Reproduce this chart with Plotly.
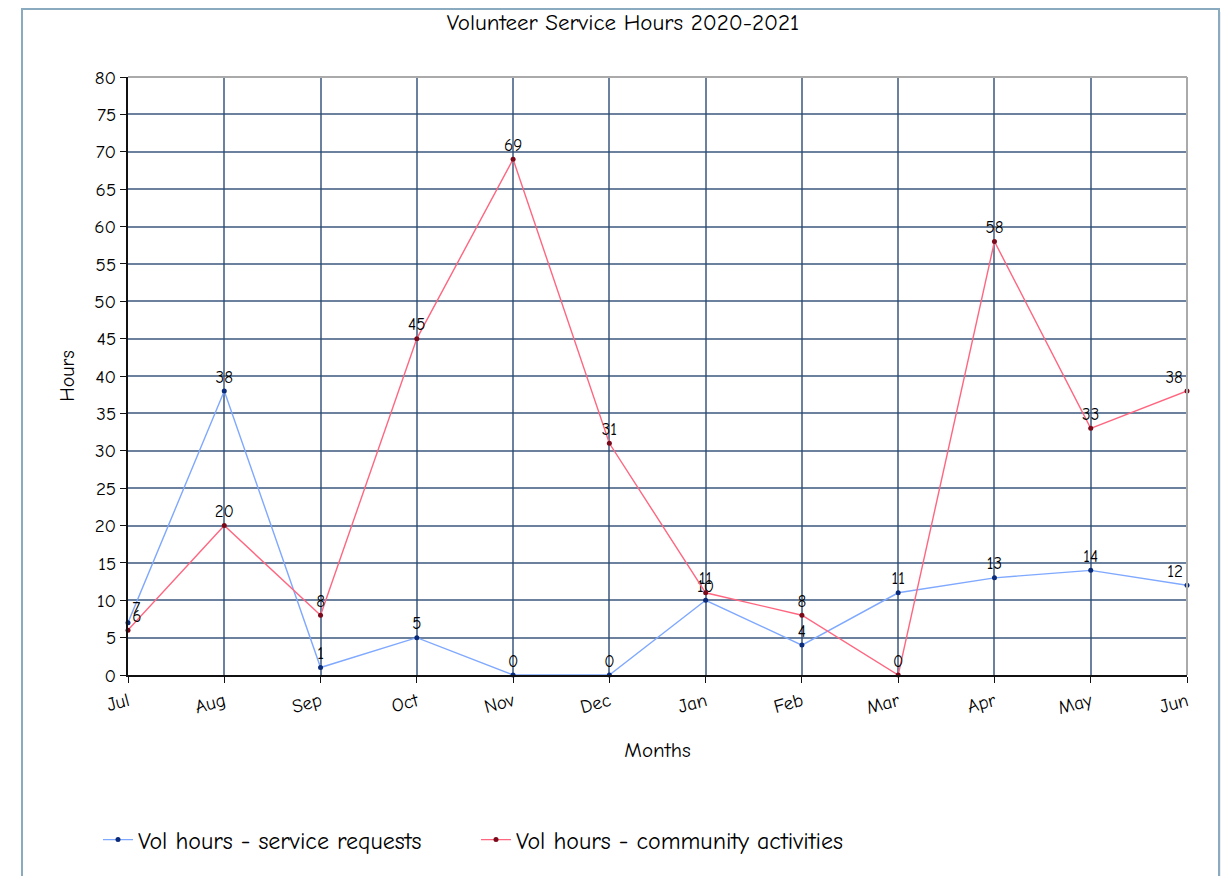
import plotly.graph_objects as go

months = ["Jul", "Aug", "Sep", "Oct", "Nov", "Dec", "Jan", "Feb", "Mar", "Apr", "May", "Jun"]
service_requests = [7, 38, 1, 5, 0, 0, 10, 4, 11, 13, 14, 12]
community_activities = [6, 20, 8, 45, 69, 31, 11, 8, 0, 58, 33, 38]

FONT = "Comic Sans MS, Comic Neue, DejaVu Sans, sans-serif"

def positions(n):
    p = ["top center"] * n
    p[0] = "top right"
    p[-1] = "top left"
    return p

fig = go.Figure()
fig.add_trace(go.Scatter(
    x=months, y=service_requests, mode="lines+markers+text",
    name="Vol hours - service requests",
    line=dict(color="#7fa8ff", width=1.4),
    marker=dict(color="#0a2a7a", size=5),
    text=[str(v) for v in service_requests],
    textposition=positions(len(months)),
    textfont=dict(family=FONT, size=17, color="#000"),
    cliponaxis=False,
))
fig.add_trace(go.Scatter(
    x=months, y=community_activities, mode="lines+markers+text",
    name="Vol hours - community activities",
    line=dict(color="#ff6680", width=1.4),
    marker=dict(color="#7a0a1a", size=5),
    text=[str(v) for v in community_activities],
    textposition=positions(len(months)),
    textfont=dict(family=FONT, size=17, color="#000"),
    cliponaxis=False,
))

W, H = 1213, 868
L, T = 120, 69
PW, PH = 1059, 598

fig.update_layout(
    width=W, height=H,
    margin=dict(l=L, r=W - L - PW, t=T, b=H - T - PH),
    paper_bgcolor="white", plot_bgcolor="white",
    font=dict(family=FONT, color="#000"),
    title=dict(text="Volunteer Service Hours 2020-2021", x=615 / W, xanchor="center",
               y=1 - 14 / H, yanchor="middle", font=dict(size=23, family=FONT)),
    xaxis=dict(
        type="category", range=[0, 11],
        title=dict(text="Months", font=dict(size=21), standoff=24),
        tickangle=-15, tickfont=dict(size=19),
        showgrid=True, gridcolor="rgba(45,75,115,0.7)", gridwidth=1.5,
        showline=True, linecolor="#111", linewidth=2,
        ticks="outside", ticklen=6, tickcolor="#111",
        zeroline=False,
    ),
    yaxis=dict(
        range=[0, 80], dtick=5,
        title=dict(text="Hours", font=dict(size=20), standoff=14),
        tickfont=dict(size=19),
        showgrid=True, gridcolor="rgba(45,75,115,0.7)", gridwidth=1.5,
        showline=True, linecolor="#111", linewidth=2,
        ticks="outside", ticklen=6, tickcolor="#111",
        zeroline=False,
    ),
    legend=dict(orientation="h", x=-30 / PW, y=-165 / PH, xanchor="left", yanchor="middle",
                font=dict(size=24), itemwidth=30, entrywidth=333, entrywidthmode="pixels"),
    showlegend=True,
)

# plot-area top/right gray border
fig.add_shape(type="line", xref="paper", yref="paper", x0=0, x1=1, y0=1, y1=1,
              line=dict(color="#aaaaaa", width=2))
fig.add_shape(type="line", xref="paper", yref="paper", x0=1, x1=1, y0=0, y1=1,
              line=dict(color="#aaaaaa", width=2))
# outer frame shadow and frame
fig.add_shape(type="line", xref="paper", yref="paper",
              x0=(1214 - L) / PW, x1=(1214 - L) / PW,
              y0=(T + PH - 900) / PH, y1=(T + PH - 4) / PH,
              line=dict(color="#dddddd", width=3), layer="below")
fig.add_shape(type="rect", xref="paper", yref="paper",
              x0=(14 - L) / PW, x1=(1211 - L) / PW,
              y0=(T + PH - 900) / PH, y1=(T + PH - 1) / PH,
              line=dict(color="#8aaabf", width=2), layer="below")

fig.write_html("out.html")
